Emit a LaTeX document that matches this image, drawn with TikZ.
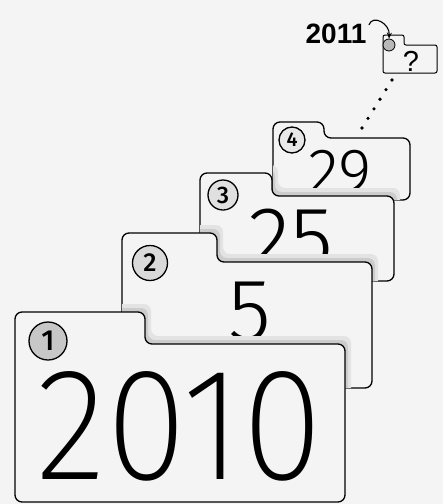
\documentclass[tikz,border=0pt]{standalone}
\usepackage{fontspec}
\usetikzlibrary{calc,arrows.meta}
\IfFontExistsTF{Fira Sans ExtraLight}{\newfontfamily\handfont{Fira Sans ExtraLight}[FakeStretch=0.92]}{\newfontfamily\handfont{Fira Sans Thin}[FakeStretch=0.92]}
\IfFontExistsTF{Fira Sans Light}{\newfontfamily\smallhand{Fira Sans Light}}{\newfontfamily\smallhand{Fira Sans Thin}}
\IfFontExistsTF{Fira Sans Medium}{\newfontfamily\markfont{Fira Sans Medium}}{\newfontfamily\markfont{Fira Sans}}
\newfontfamily\yearfont{Liberation Sans}
\definecolor{paper}{RGB}{244,244,244}
% folder card: left, tab top, tab right, body top, right, bottom
\newcommand{\tabcard}[6]{(#1,#6) -- (#1,#2) -- (#3,#2) -- (#3,#4) -- (#5,#4) -- (#5,#6) -- cycle}
\tikzset{
  card/.style={draw=black,fill=paper,line width=1.3pt,rounded corners=7pt},
  softshadow/.style={fill=black!11,rounded corners=7pt,xshift=6pt,yshift=8pt},
  hardshadow/.style={fill=black!20,rounded corners=7pt,xshift=3pt,yshift=4pt},
  numdisc/.style={circle,draw,line width=1.3pt,inner sep=0pt,font=\markfont\fontsize{#1}{#1}\selectfont},
  bignum/.style={inner sep=0pt,anchor=base,font=\handfont\fontsize{#1}{#1}\selectfont},
  midnum/.style={inner sep=0pt,anchor=base,font=\smallhand\fontsize{#1}{#1}\selectfont}
}
\begin{document}
\begin{tikzpicture}[x=1pt,y=-1pt,>={Stealth[length=6pt,width=5pt]},line width=1pt]
  \fill[paper] (0,0) rectangle (443,504);
  \useasboundingbox (0,0) rectangle (443,504);
  % the unknown year
  \draw[card,line width=1pt,rounded corners=2pt] \tabcard{383}{35}{404}{45}{437}{73};
  \node[circle,draw,line width=.8pt,fill=black!28,minimum size=12pt,inner sep=0pt] (qc) at (389,45) {};
  \node[inner sep=0pt,anchor=base,font=\yearfont\fontsize{29}{29}\selectfont] (qmark) at (411,71) {?};
  \node[inner sep=0pt,anchor=base,font=\yearfont\bfseries\fontsize{28}{28}\selectfont] (y2011) at (336,43) {2011};
  \draw[->,line width=1.1pt] ([shift={(2,2)}]y2011.north east) .. controls +(4,-11) and +(1,-15) .. (qc.north);
  \coordinate (dTop) at (392,80);
  \coordinate (dBot) at (362,128);
  \foreach \t in {0,0.2,0.4,0.6,0.8,1}
    \fill ($(dTop)!\t!(dBot)$) circle (1.8pt);
  % card four
  \draw[card] \tabcard{273}{122}{324}{138}{410}{200};
  \node[numdisc=20,fill=black!9,minimum size=26pt] (c4) at (292,140) {4};
  \node[midnum=64] (n29) at (340,193) {29};
  % card three
  \begin{scope}
    \clip[rounded corners=7pt] \tabcard{273}{122}{324}{138}{410}{200};
    \fill[softshadow] \tabcard{200}{173}{272}{196}{394}{281};
    \fill[hardshadow] \tabcard{200}{173}{272}{196}{394}{281};
  \end{scope}
  \draw[card] \tabcard{200}{173}{272}{196}{394}{281};
  \node[numdisc=24,fill=black!12,minimum size=30pt] (c3) at (223,195) {3};
  \node[midnum=88] (n25) at (291,268) {25};
  % card two
  \begin{scope}
    \clip[rounded corners=7pt] \tabcard{200}{173}{272}{196}{394}{281};
    \fill[softshadow] \tabcard{122}{233}{217}{262}{372}{388};
    \fill[hardshadow] \tabcard{122}{233}{217}{262}{372}{388};
  \end{scope}
  \draw[card] \tabcard{122}{233}{217}{262}{372}{388};
  \node[numdisc=26,fill=black!15,minimum size=35pt] (c2) at (150,263) {2};
  \node[midnum=88] (n5) at (250,340) {5};
  % card one
  \begin{scope}
    \clip[rounded corners=7pt] \tabcard{122}{233}{217}{262}{372}{388};
    \fill[softshadow] \tabcard{15}{312}{145}{344}{345}{502};
    \fill[hardshadow] \tabcard{15}{312}{145}{344}{345}{502};
  \end{scope}
  \draw[card] \tabcard{15}{312}{145}{344}{345}{502};
  \node[numdisc=29,fill=black!22,minimum size=38pt] (c1) at (48,341) {1};
  \node[bignum=160] (n2010) at (180,479) {2010};
\end{tikzpicture}
\end{document}
